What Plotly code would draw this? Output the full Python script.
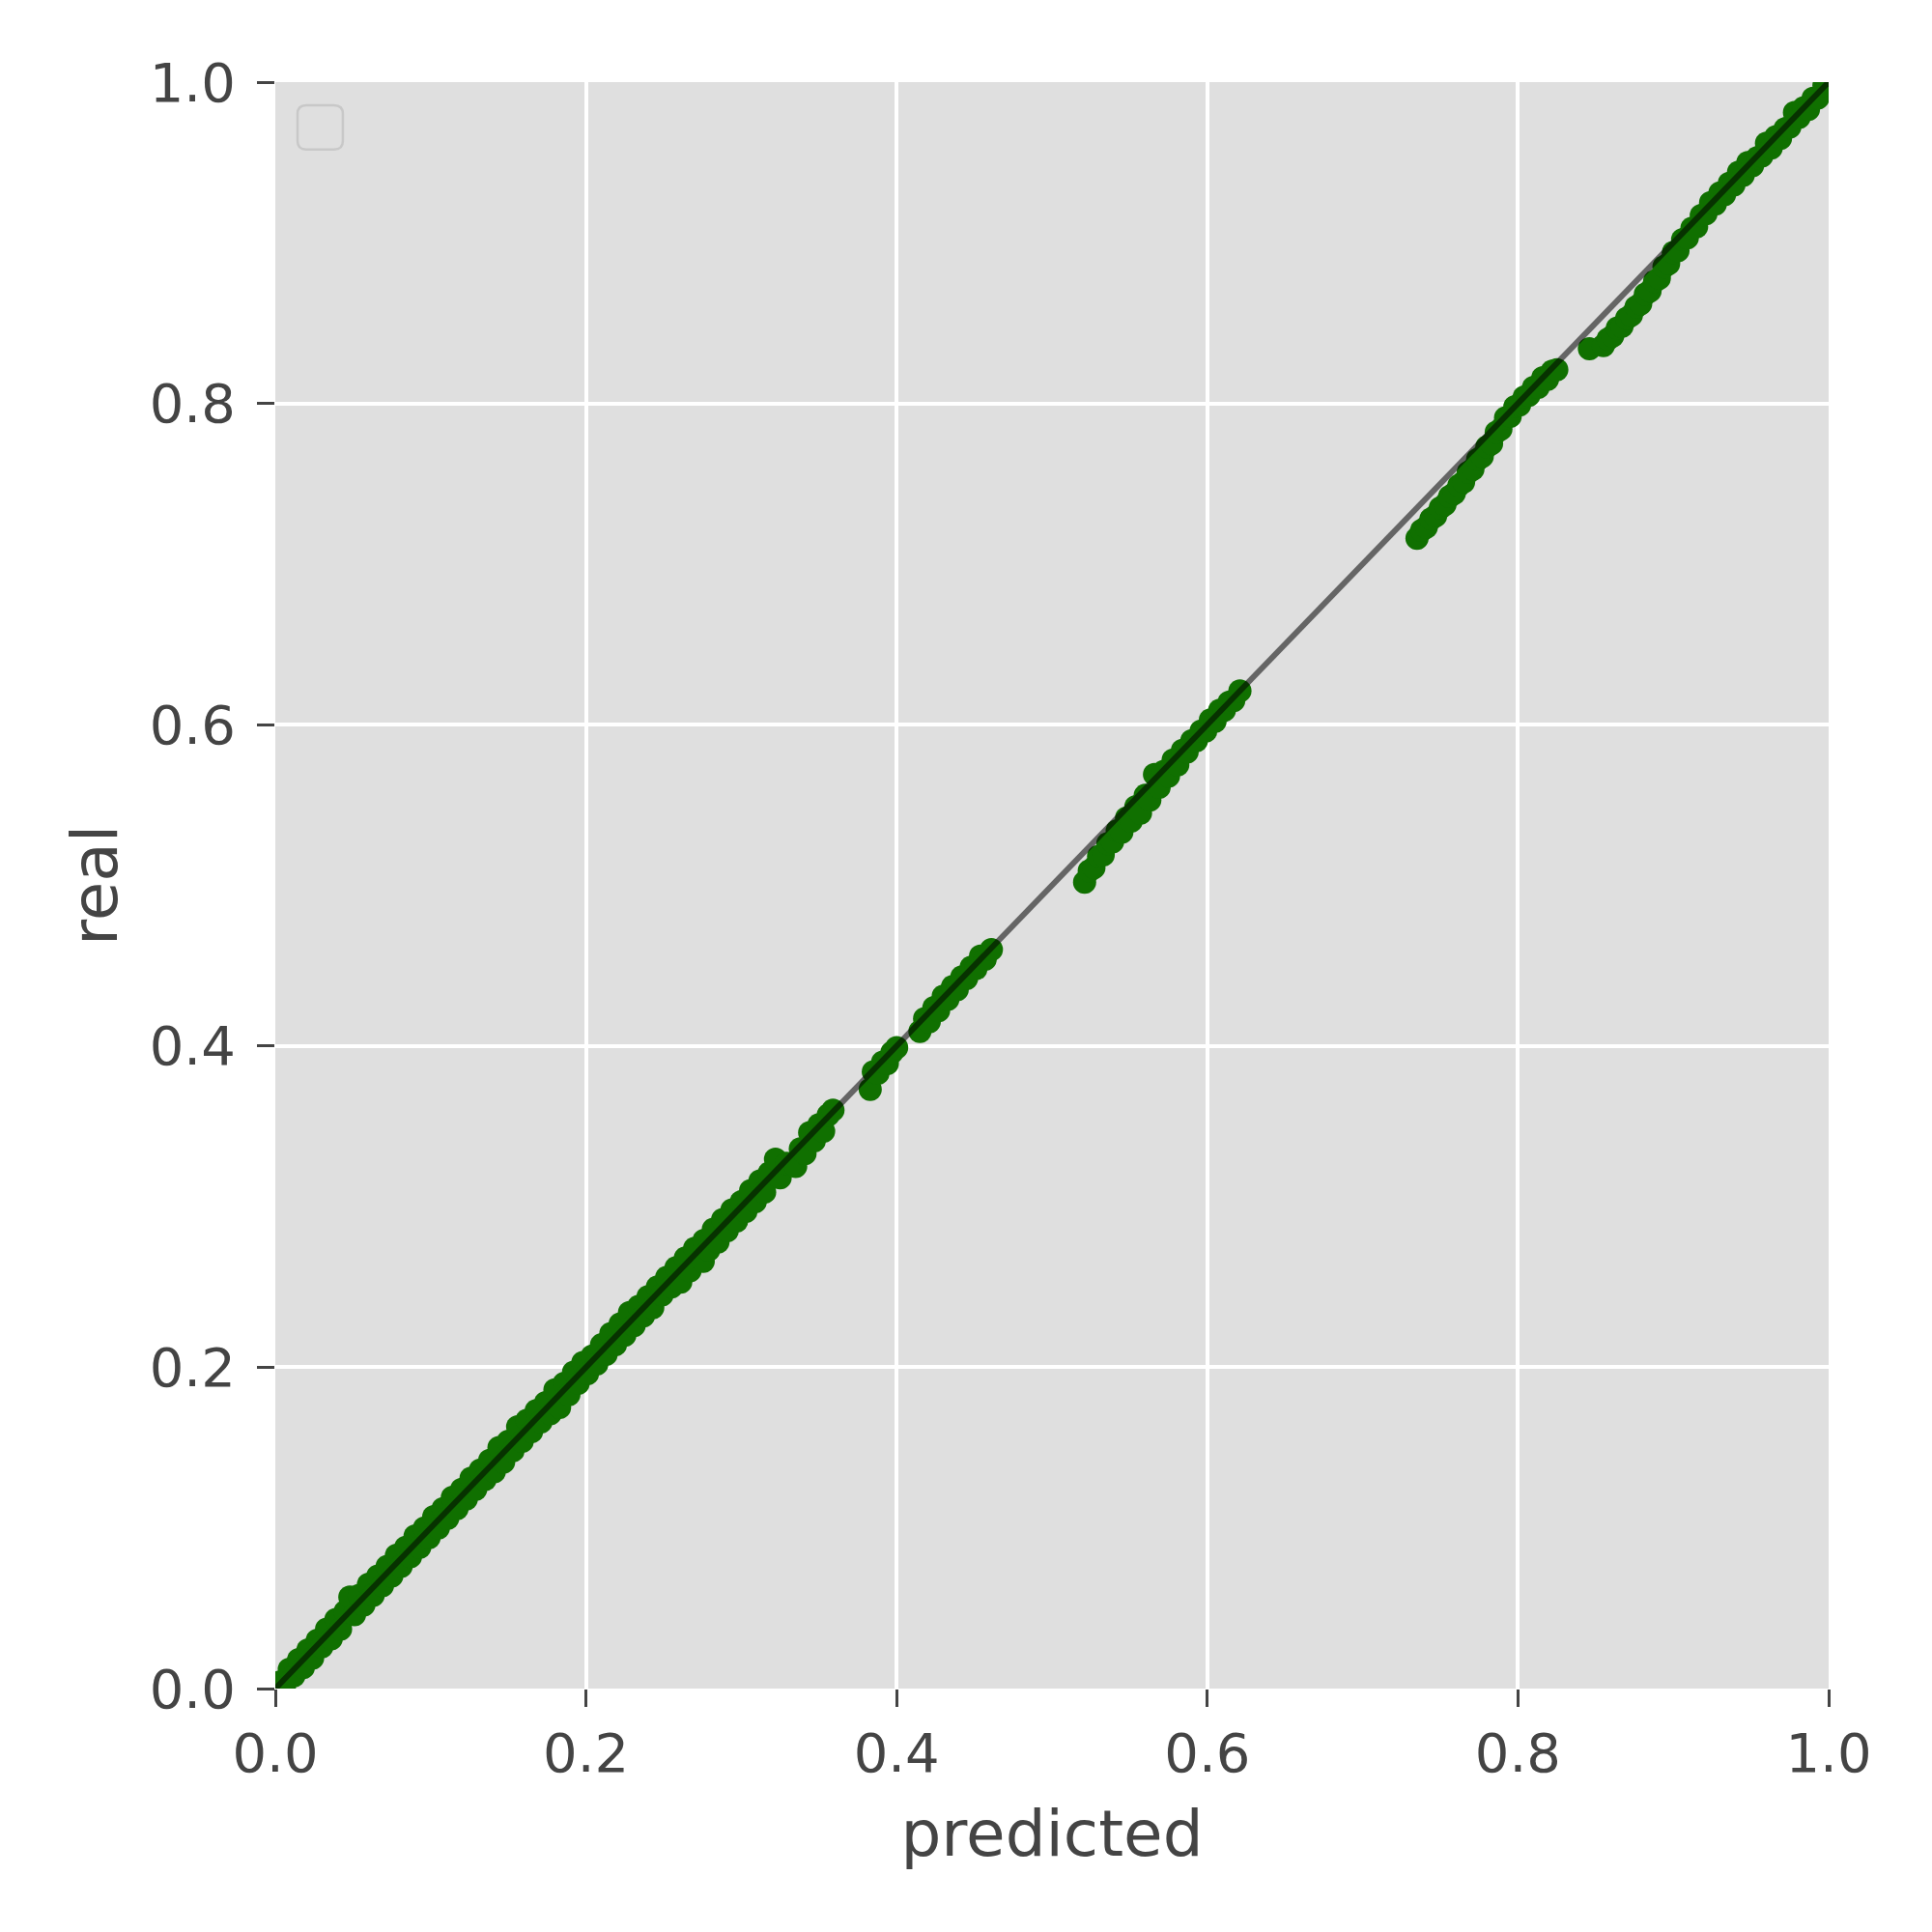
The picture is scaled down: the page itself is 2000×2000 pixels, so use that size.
import plotly.graph_objects as go

# predicted vs real; one pair of lists per run of points
pred_a = [0.003, 0.006, 0.009, 0.012, 0.015, 0.018, 0.021, 0.024, 0.027, 0.030, 0.033, 0.036,
          0.039, 0.042, 0.045, 0.048, 0.051, 0.054, 0.057, 0.060, 0.063, 0.066, 0.069, 0.072,
          0.075, 0.078, 0.081, 0.084, 0.087, 0.090, 0.093, 0.096, 0.099, 0.102, 0.105, 0.108,
          0.111, 0.114, 0.117, 0.120, 0.123, 0.126, 0.129, 0.132, 0.135, 0.138, 0.141, 0.144,
          0.147, 0.150, 0.153, 0.156, 0.159, 0.162, 0.165, 0.168, 0.171, 0.174, 0.177, 0.180,
          0.183, 0.186, 0.189, 0.192, 0.195, 0.198, 0.201, 0.204, 0.207, 0.210, 0.213, 0.216,
          0.219, 0.222, 0.225, 0.228, 0.231, 0.234, 0.237, 0.240, 0.243, 0.246, 0.249, 0.252,
          0.255, 0.258, 0.261, 0.264, 0.267, 0.270, 0.2755, 0.276, 0.279, 0.282, 0.285, 0.288,
          0.291, 0.294, 0.297, 0.300, 0.303, 0.306, 0.309, 0.312, 0.315, 0.318, 0.322, 0.325,
          0.329, 0.335, 0.338, 0.341, 0.344, 0.347, 0.350, 0.353, 0.356, 0.359]
real_a = [0.004, 0.002, 0.012, 0.008, 0.018, 0.013, 0.024, 0.019, 0.030, 0.026, 0.037, 0.031,
          0.043, 0.037, 0.048, 0.057, 0.046, 0.058, 0.052, 0.065, 0.058, 0.070, 0.064, 0.076,
          0.070, 0.083, 0.076, 0.088, 0.082, 0.095, 0.088, 0.100, 0.094, 0.107, 0.100, 0.112,
          0.106, 0.119, 0.112, 0.124, 0.118, 0.131, 0.124, 0.136, 0.130, 0.142, 0.135, 0.150,
          0.141, 0.154, 0.148, 0.163, 0.154, 0.167, 0.160, 0.173, 0.166, 0.178, 0.171, 0.186,
          0.175, 0.190, 0.183, 0.197, 0.190, 0.203, 0.196, 0.207, 0.202, 0.214, 0.208, 0.221,
          0.214, 0.227, 0.220, 0.234, 0.226, 0.238, 0.232, 0.244, 0.237, 0.250, 0.245, 0.256,
          0.250, 0.262, 0.253, 0.268, 0.260, 0.274, 0.266, 0.279, 0.273, 0.286, 0.278, 0.292,
          0.285, 0.298, 0.291, 0.303, 0.297, 0.310, 0.303, 0.316, 0.309, 0.321, 0.3295, 0.318,
          0.327, 0.325, 0.336, 0.333, 0.346, 0.341, 0.351, 0.347, 0.357, 0.360]

pred_b = [0.383, 0.385, 0.388, 0.391, 0.394, 0.397, 0.400]
real_b = [0.373, 0.384, 0.383, 0.390, 0.389, 0.396, 0.399]

pred_c = [0.415, 0.418, 0.421, 0.424, 0.427, 0.430, 0.433, 0.436, 0.439, 0.442, 0.445, 0.448,
          0.451, 0.454, 0.457, 0.461]
real_c = [0.409, 0.417, 0.415, 0.424, 0.422, 0.431, 0.429, 0.437, 0.435, 0.443, 0.442, 0.449,
          0.448, 0.456, 0.454, 0.460]

pred_d = [0.521, 0.524, 0.527, 0.530, 0.533, 0.536, 0.539, 0.542, 0.545, 0.548, 0.551, 0.554,
          0.557, 0.560, 0.563, 0.566, 0.569, 0.572, 0.575, 0.578, 0.581, 0.584, 0.587, 0.590,
          0.593, 0.596, 0.599, 0.602, 0.605, 0.608, 0.611, 0.614, 0.617, 0.621]
real_d = [0.502, 0.509, 0.511, 0.518, 0.519, 0.526, 0.527, 0.534, 0.533, 0.542, 0.540, 0.549,
          0.545, 0.556, 0.553, 0.569, 0.561, 0.571, 0.568, 0.578, 0.575, 0.584, 0.583, 0.590,
          0.590, 0.596, 0.596, 0.603, 0.602, 0.609, 0.609, 0.614, 0.615, 0.621]

pred_e = [0.735, 0.738, 0.741, 0.744, 0.747, 0.750, 0.753, 0.756, 0.759, 0.762, 0.765, 0.768,
          0.771, 0.774, 0.777, 0.780, 0.783, 0.786, 0.789, 0.792, 0.795, 0.798, 0.801, 0.804,
          0.807, 0.810, 0.813, 0.816, 0.819, 0.822, 0.825]
real_e = [0.716, 0.721, 0.723, 0.728, 0.730, 0.735, 0.737, 0.742, 0.744, 0.749, 0.751, 0.757,
          0.759, 0.765, 0.767, 0.773, 0.775, 0.782, 0.784, 0.791, 0.792, 0.798, 0.799, 0.804,
          0.805, 0.810, 0.810, 0.816, 0.815, 0.820, 0.821]

pred_f = [0.846, 0.855, 0.858, 0.861, 0.864, 0.867, 0.870, 0.873, 0.876, 0.879, 0.882, 0.885,
          0.888, 0.891, 0.894, 0.897, 0.900, 0.903, 0.906, 0.909, 0.912, 0.915, 0.918, 0.921,
          0.924, 0.927, 0.930, 0.933, 0.936, 0.939, 0.942, 0.945, 0.948, 0.951, 0.954, 0.957,
          0.960, 0.963, 0.966, 0.969, 0.972, 0.975, 0.978, 0.981, 0.984, 0.987, 0.990, 0.993,
          0.997]
real_f = [0.834, 0.836, 0.840, 0.842, 0.847, 0.848, 0.853, 0.855, 0.860, 0.862, 0.868, 0.870,
          0.876, 0.878, 0.885, 0.887, 0.894, 0.895, 0.902, 0.903, 0.909, 0.910, 0.917, 0.918,
          0.925, 0.924, 0.931, 0.930, 0.937, 0.936, 0.944, 0.942, 0.950, 0.948, 0.953, 0.954,
          0.962, 0.959, 0.966, 0.965, 0.971, 0.972, 0.981, 0.978, 0.984, 0.983, 0.990, 0.990,
          0.998]

diag = [0, 1]
tick_vals = [0.0, 0.2, 0.4, 0.6, 0.8, 1.0]
tick_text = ["0.0", "0.2", "0.4", "0.6", "0.8", "1.0"]

predicted = pred_a + pred_b + pred_c + pred_d + pred_e + pred_f
real = real_a + real_b + real_c + real_d + real_e + real_f

fig = go.Figure()
fig.add_trace(go.Scatter(x=predicted, y=real, mode="markers",
                         marker=dict(color="#107000", size=24, line=dict(width=0)),
                         showlegend=False))
fig.add_trace(go.Scatter(x=diag, y=diag, mode="lines",
                         line=dict(color="rgba(0,0,0,0.55)", width=6),
                         showlegend=False))

axis_style = dict(range=[0, 1], tickvals=tick_vals, ticktext=tick_text,
                  showgrid=True, gridcolor="white", gridwidth=3.5, zeroline=False,
                  showline=False, ticks="outside", ticklen=18, tickwidth=3, tickcolor="#444444",
                  tickfont=dict(family="DejaVu Sans", size=56, color="#444444"))

fig.update_xaxes(**axis_style, title=dict(text="predicted", standoff=28,
                 font=dict(family="DejaVu Sans", size=66, color="#444444")))
fig.update_yaxes(**axis_style, ticklabelstandoff=11, title=dict(text="real", standoff=11,
                 font=dict(family="DejaVu Sans", size=66, color="#444444")))

# empty legend frame in the upper left corner
x0, x1, y0, y1, rx, ry = 0.0143, 0.0435, 0.9580, 0.9856, 0.0056, 0.0054
legend_path = (f"M {x0+rx},{y0} L {x1-rx},{y0} Q {x1},{y0} {x1},{y0+ry} "
               f"L {x1},{y1-ry} Q {x1},{y1} {x1-rx},{y1} L {x0+rx},{y1} "
               f"Q {x0},{y1} {x0},{y1-ry} L {x0},{y0+ry} Q {x0},{y0} {x0+rx},{y0} Z")
fig.add_shape(type="path", path=legend_path, xref="x", yref="y",
              line=dict(color="#C8C8C8", width=2.5), fillcolor="rgba(0,0,0,0)")

fig.update_layout(width=2000, height=2000, paper_bgcolor="white", plot_bgcolor="#DFDFDF",
                  margin=dict(l=277, r=115, t=77, b=260),
                  font=dict(family="DejaVu Sans", color="#444444"))

fig.write_html("out.html")
